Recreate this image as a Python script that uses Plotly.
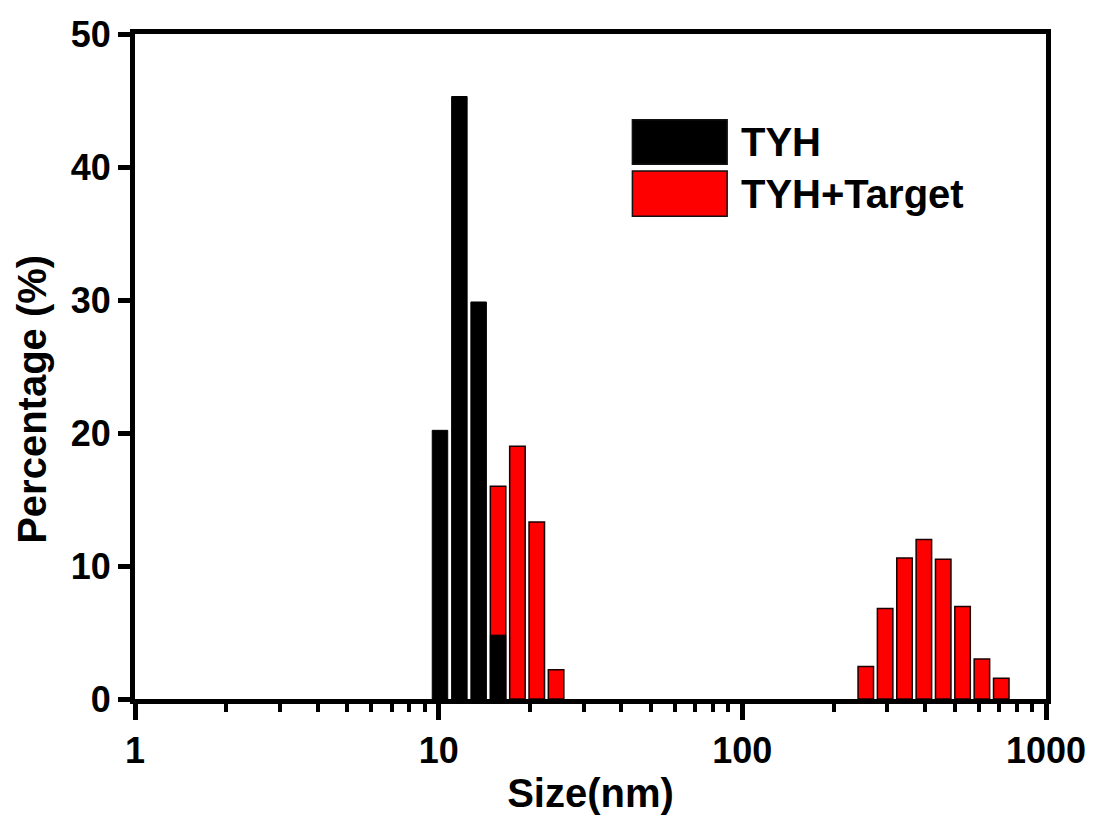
import numpy as np
import plotly.graph_objects as go

# Size bins (nm) and intensity percentages
tyh_size = [10.10, 11.70, 13.54, 15.69]
tyh_pct = [20.2, 45.3, 29.85, 4.8]

target_size = [15.69, 18.17, 21.04, 24.36,
               255.0, 295.3, 342.0, 396.1, 458.7, 531.2, 615.1, 712.4]
target_pct = [16.0, 19.0, 13.3, 2.2,
              2.45, 6.8, 10.6, 12.0, 10.5, 6.95, 3.0, 1.56]

x_ticks = [1, 10, 100, 1000]
y_ticks = [0, 10, 20, 30, 40, 50]

FONT = "Liberation Sans, Arial, sans-serif"
HALF_DEC = 0.0255  # half bar width in decades on the log axis


def log_bar_geometry(sizes):
    s = np.asarray(sizes, dtype=float)
    lo = s * 10 ** (-HALF_DEC)
    hi = s * 10 ** (HALF_DEC)
    return (lo - s).tolist(), (hi - lo).tolist()


t_off, t_w = log_bar_geometry(target_size)
b_off, b_w = log_bar_geometry(tyh_size)

fig = go.Figure()
# red drawn first so the black bars sit on top where bins overlap
fig.add_trace(go.Bar(
    x=target_size, y=target_pct, offset=t_off, width=t_w,
    marker=dict(color="#ff0000", line=dict(color="#1a0000", width=1.5)),
    name="TYH+Target", showlegend=False,
))
fig.add_trace(go.Bar(
    x=tyh_size, y=tyh_pct, offset=b_off, width=b_w,
    marker=dict(color="#000000", line=dict(color="#000000", width=1)),
    name="TYH", showlegend=False,
))

# legend drawn as large swatches with bold labels
legend_items = [("TYH", "#000000", 0.871, 0.804),
                ("TYH+Target", "#ff0000", 0.794, 0.726)]
for label, color, y1, y0 in legend_items:
    fig.add_shape(type="rect", xref="paper", yref="paper",
                  x0=0.546, x1=0.650, y0=y0, y1=y1,
                  fillcolor=color, line=dict(color="#111111", width=1.5))
    fig.add_annotation(xref="paper", yref="paper", x=0.663, y=(y0 + y1) / 2,
                       text=f"<b>{label}</b>", showarrow=False,
                       xanchor="left", yanchor="middle",
                       font=dict(family=FONT, size=40, color="black"))

# y-axis title placed as rotated text
fig.add_annotation(xref="paper", yref="paper", x=-0.113, y=0.45,
                   text="<b>Percentage (%)</b>", showarrow=False, textangle=-90,
                   xanchor="center", yanchor="middle",
                   font=dict(family=FONT, size=40, color="black"))

fig.update_layout(
    width=1100, height=820,
    margin=dict(l=135, r=54, t=34, b=121),
    paper_bgcolor="white", plot_bgcolor="white",
    barmode="overlay",
    font=dict(family=FONT, size=36, color="black"),
)

fig.update_xaxes(
    type="log", range=[0, 3],
    tickvals=x_ticks, ticktext=[f"<b>{v}</b>" for v in x_ticks],
    ticks="outside", ticklen=16, tickwidth=5, tickcolor="black",
    minor=dict(ticks="outside", ticklen=8, tickwidth=4, tickcolor="black", dtick="D1"),
    showline=True, linewidth=5, linecolor="black", mirror=True,
    showgrid=False, zeroline=False,
    tickfont=dict(family=FONT, size=36, color="black"),
    title=dict(text="<b>Size(nm)</b>", font=dict(family=FONT, size=40, color="black"),
               standoff=10),
)
fig.update_yaxes(
    range=[0, 50],
    tickvals=y_ticks, ticktext=[f"<b>{v}</b>" for v in y_ticks],
    ticks="outside", ticklen=12, tickwidth=5, tickcolor="black",
    showline=True, linewidth=5, linecolor="black", mirror=True,
    showgrid=False, zeroline=False,
    tickfont=dict(family=FONT, size=36, color="black"),
)

fig.write_html("out.html")
